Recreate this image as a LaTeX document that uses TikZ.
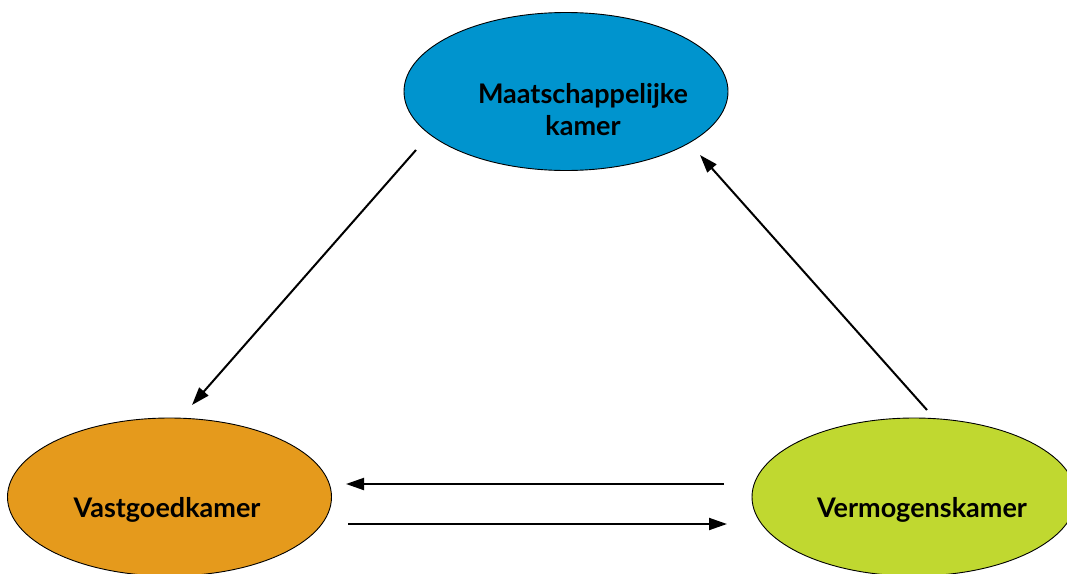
\documentclass[tikz,border=0pt]{standalone}
\usepackage{fontspec}
\setmainfont{Lato}
\usetikzlibrary{shapes.geometric,arrows.meta}
\definecolor{cblue}{RGB}{0,148,206}
\definecolor{corange}{RGB}{229,154,28}
\definecolor{cgreen}{RGB}{192,216,48}
\tikzset{
  chamber/.style={ellipse,draw=black,line width=0.9pt,minimum width=324pt,minimum height=158pt,inner sep=0pt},
  lbl/.style={font=\bfseries\fontsize{27}{32}\selectfont,align=center,text=black},
  conn/.style={line width=2pt,-{Triangle[length=18pt,width=12pt]}}
}
\begin{document}
\begin{tikzpicture}[x=1pt,y=-1pt]
\useasboundingbox (0,0) rectangle (1067,573);
\clip (0,0) rectangle (1067,573);
\node[chamber,fill=cblue] (maat) at (566,91.5) {};
\node[chamber,fill=corange] (vast) at (169.5,497) {};
\node[chamber,fill=cgreen] (verm) at (914,497) {};
\node[lbl] (maatt) at (583,110) {Maatschappelijke\\kamer};
\node[lbl] (vastt) at (167,510) {Vastgoedkamer};
\node[lbl] (vermt) at (922,510) {Vermogenskamer};
\coordinate (a1) at (416,150);
\coordinate (a2) at (192,405);
\coordinate (b1) at (927,410);
\coordinate (b2) at (700,155);
\coordinate (c1) at (724,484);
\coordinate (c2) at (346,484);
\coordinate (d1) at (348,524);
\coordinate (d2) at (727,524);
\draw[conn] (a1) -- (a2);
\draw[conn] (b1) -- (b2);
\draw[conn] (c1) -- (c2);
\draw[conn] (d1) -- (d2);
\end{tikzpicture}
\end{document}
